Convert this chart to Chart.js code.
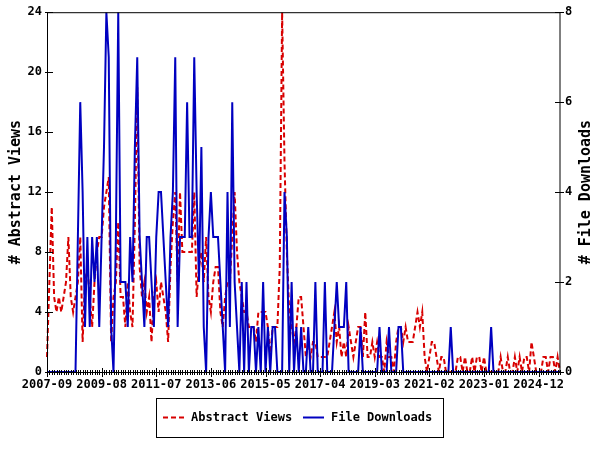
<!DOCTYPE html>
<html>
<head>
<meta charset="utf-8">
<script src="https://cdn.jsdelivr.net/npm/chart.js@4/dist/chart.umd.min.js"></script>
<style>
    html, body { margin: 0; padding: 0; background: #fff; }
</style>
</head>
<body>
<canvas id="chartStats" width="600" height="450"></canvas>
<script>
// monthly series, first month 2007-09, last 2025-09
const firstMonth = [2007, 9];
const monthCount = 217;

const abstractViews = [
    1, 6, 11, 5, 4, 5, 4, 5, 6, 9, 5, 4,
    5, 6, 9, 2, 6, 7, 5, 3, 6, 8, 9, 9,
    11, 12, 13, 2, 5, 6, 10, 5, 5, 3, 6, 4,
    3, 10, 19, 7, 5, 6, 4, 5, 2, 5, 6, 4,
    6, 5, 4, 2, 7, 10, 12, 6, 12, 8, 8, 8,
    8, 8, 12, 5, 7, 8, 6, 9, 5, 4, 6, 7,
    7, 4, 3, 5, 6, 6, 9, 12, 8, 6, 5, 4,
    4, 3, 3, 3, 2, 4, 4, 4, 4, 3, 1, 3,
    3, 3, 7, 24, 14, 8, 4, 3, 2, 3, 5, 5,
    3, 1, 2, 1, 2, 2, 1, 1, 1, 1, 1, 2,
    3, 4, 2, 3, 1, 2, 1, 3, 2, 1, 2, 3,
    3, 1, 4, 1, 1, 2, 1, 2, 1, 1, 0, 2,
    1, 1, 0, 2, 3, 3, 2, 3, 2, 2, 2, 3,
    4, 3, 4, 1, 0, 1, 2, 2, 1, 0, 1, 1,
    0, 0, 0, 0, 0, 1, 1, 0, 1, 0, 0, 1,
    0, 1, 1, 0, 1, 0, 0, 0, 0, 0, 0, 1,
    0, 0, 1, 0, 0, 1, 0, 1, 0, 1, 1, 0,
    2, 1, 0, 0, 0, 1, 1, 0, 1, 1, 0, 1,
    0
];

const fileDownloads = [
    0, 0, 0, 0, 0, 0, 0, 0, 0, 0, 0, 0,
    0, 3, 6, 4, 1, 3, 1, 3, 2, 3, 1, 3,
    5, 8, 7, 1, 0, 3, 8, 2, 2, 2, 1, 3,
    2, 5, 7, 3, 2, 1, 3, 3, 2, 1, 3, 4,
    4, 3, 2, 1, 3, 4, 7, 1, 3, 3, 3, 6,
    3, 3, 7, 4, 2, 5, 1, 0, 3, 4, 3, 3,
    3, 2, 1, 0, 4, 1, 6, 2, 1, 0, 2, 0,
    2, 0, 1, 1, 0, 1, 0, 2, 0, 1, 0, 1,
    1, 0, 0, 0, 4, 3, 0, 2, 0, 1, 0, 1,
    0, 0, 1, 0, 0, 2, 0, 0, 0, 2, 0, 0,
    0, 1, 2, 1, 1, 1, 2, 0, 0, 0, 0, 0,
    1, 0, 0, 0, 0, 0, 0, 0, 1, 0, 0, 0,
    1, 0, 0, 0, 1, 1, 0, 0, 0, 0, 0, 0,
    0, 0, 0, 0, 0, 0, 0, 0, 0, 0, 0, 0,
    0, 0, 1, 0, 0, 0, 0, 0, 0, 0, 0, 0,
    0, 0, 0, 0, 0, 0, 0, 1, 0, 0, 0, 0,
    0, 0, 0, 0, 0, 0, 0, 0, 0, 0, 0, 0,
    0, 0, 0, 0, 0, 0, 0, 0, 0, 0, 0, 0,
    0
];

const tickLabels = ['2007-09', '2009-08', '2011-07', '2013-06', '2015-05',
    '2017-04', '2019-03', '2021-02', '2023-01', '2024-12'];
const viewsMax = 24;
const viewsStep = 4;
const downloadsMax = 8;
const downloadsStep = 2;

const RED = '#d80000';
const BLUE = '#0000c0';
const FONT_FAMILY = '"DejaVu Sans Mono", "Liberation Mono", monospace';

const buildMonths = () => {
    const months = [];
    let [year, month] = firstMonth;
    for (let i = 0; i < monthCount; i++) {
        months.push(`${year}-${String(month).padStart(2, '0')}`);
        month++;
        if (month > 12) { month = 1; year++; }
    }
    return months;
};

const months = buildMonths();

// box, inward ticks, rotated axis titles and the boxed legend (gnuplot look)
const gnuplotFrame = {
    id: 'gnuplotFrame',
    afterDatasetsDraw(chart) {
        const { ctx, chartArea: area, scales } = chart;
        ctx.save();
        ctx.strokeStyle = '#000';
        ctx.lineWidth = 1;
        ctx.strokeRect(area.left + 0.5, area.top + 0.5, area.right - area.left - 0.5, area.bottom - area.top);

        ctx.beginPath();
        months.forEach((m, i) => {
            const x = Math.round(scales.x.getPixelForValue(i)) + 0.5;
            const len = tickLabels.includes(m) ? 4 : 2;
            ctx.moveTo(x, area.bottom - len);
            ctx.lineTo(x, area.bottom + len + 1);
        });
        for (let v = 0; v <= viewsMax; v += viewsStep) {
            const y = Math.round(scales.yViews.getPixelForValue(v)) + 0.5;
            ctx.moveTo(area.left - 2, y);
            ctx.lineTo(area.left + 6, y);
        }
        for (let v = 0; v <= downloadsMax; v += downloadsStep) {
            const y = Math.round(scales.yDownloads.getPixelForValue(v)) + 0.5;
            ctx.moveTo(area.right - 5, y);
            ctx.lineTo(area.right + 4, y);
        }
        ctx.stroke();
        ctx.restore();
    },
    afterDraw(chart) {
        const { ctx, chartArea: area } = chart;
        const midY = (area.top + area.bottom) / 2;
        ctx.save();
        ctx.fillStyle = '#000';
        ctx.font = `bold 15px ${FONT_FAMILY}`;
        ctx.textAlign = 'center';
        ctx.textBaseline = 'middle';
        [[16, '# Abstract Views'], [586, '# File Downloads']].forEach(([x, text]) => {
            ctx.save();
            ctx.translate(x, midY);
            ctx.rotate(-Math.PI / 2);
            ctx.fillText(text, 0, 0);
            ctx.restore();
        });

        // legend
        ctx.strokeStyle = '#000';
        ctx.lineWidth = 1;
        ctx.strokeRect(156.5, 398.5, 287, 39);
        ctx.font = `bold 12px ${FONT_FAMILY}`;
        ctx.textAlign = 'left';
        const legendY = 418;
        const starts = [163, 303];
        chart.data.datasets.forEach((ds, i) => {
            const x0 = starts[i];
            ctx.beginPath();
            ctx.strokeStyle = ds.borderColor;
            ctx.lineWidth = ds.borderWidth;
            ctx.setLineDash(ds.borderDash || []);
            ctx.moveTo(x0, legendY - 0.5);
            ctx.lineTo(x0 + 21, legendY - 0.5);
            ctx.stroke();
            ctx.setLineDash([]);
            ctx.fillText(ds.label, x0 + 28, legendY);
        });
        ctx.restore();
    }
};

const tickFont = { family: FONT_FAMILY, size: 12, weight: 'bold' };

const buildStatsChart = () => {
    const canvas = document.getElementById('chartStats');
    if (!canvas || typeof Chart === 'undefined') return;

    new Chart(canvas.getContext('2d'), {
        type: 'line',
        data: {
            labels: months,
            datasets: [{
                label: 'Abstract Views',
                data: abstractViews,
                yAxisID: 'yViews',
                borderColor: RED,
                borderWidth: 2,
                borderDash: [5, 3],
                pointRadius: 0,
                tension: 0,
                fill: false,
                order: 2
            }, {
                label: 'File Downloads',
                data: fileDownloads,
                yAxisID: 'yDownloads',
                borderColor: BLUE,
                borderWidth: 2,
                pointRadius: 0,
                tension: 0,
                fill: false,
                order: 1
            }]
        },
        options: {
            responsive: false,
            animation: false,
            devicePixelRatio: 1,
            layout: { padding: { top: 10, left: 0, right: 0, bottom: 0 } },
            plugins: {
                legend: { display: false },
                tooltip: { enabled: false }
            },
            scales: {
                x: {
                    type: 'category',
                    offset: false,
                    grid: { display: false, drawTicks: false },
                    border: { display: false },
                    ticks: {
                        autoSkip: false,
                        maxRotation: 0,
                        padding: 6,
                        color: '#000',
                        font: tickFont,
                        callback: (value, index) => (tickLabels.includes(months[index]) ? months[index] : '')
                    },
                    afterFit: (scale) => { scale.height = 78; }
                },
                yViews: {
                    position: 'left',
                    min: 0,
                    max: viewsMax,
                    grid: { display: false, drawTicks: false },
                    border: { display: false },
                    ticks: { stepSize: viewsStep, padding: 5, color: '#000', font: tickFont },
                    afterFit: (scale) => { scale.width = 47; }
                },
                yDownloads: {
                    position: 'right',
                    min: 0,
                    max: downloadsMax,
                    grid: { display: false, drawTicks: false },
                    border: { display: false },
                    ticks: { stepSize: downloadsStep, padding: 5, color: '#000', font: tickFont },
                    afterFit: (scale) => { scale.width = 40; }
                }
            }
        },
        plugins: [gnuplotFrame]
    });
};

document.addEventListener('DOMContentLoaded', buildStatsChart);
</script>
</body>
</html>
